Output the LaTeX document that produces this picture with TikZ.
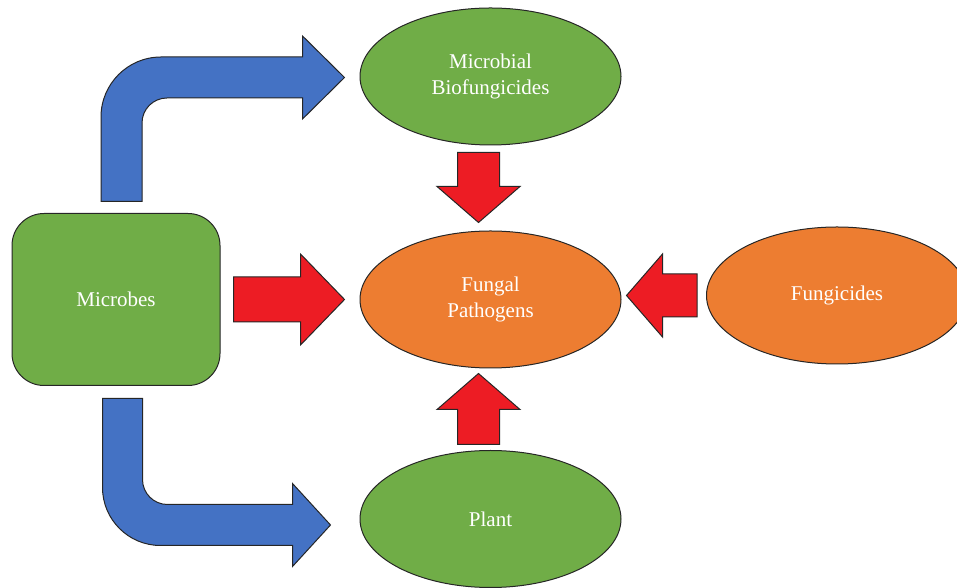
\documentclass[tikz,border=0pt]{standalone}
\usepackage{fontspec}
\setmainfont{Liberation Serif}
\usepackage{tikz}
\usepackage{xcolor}
\usetikzlibrary{calc,shapes.geometric}

\definecolor{leafgreen}{HTML}{70AD47}
\definecolor{pumpkin}{HTML}{ED7D31}
\definecolor{steelblue}{HTML}{4472C4}
\definecolor{signalred}{HTML}{ED1C24}

% straight block arrow: from, to, shaft half width, head half width, head length
\newcommand{\blockarrow}[5]{%
  \coordinate (hb) at ($(#2)!#5!(#1)$);
  \draw[redarrow] ($(#1)!#3!90:(#2)$) -- ($(hb)!#3!90:(#2)$) -- ($(hb)!#4!90:(#2)$)
    -- (#2) -- ($(hb)!#4!-90:(#2)$) -- ($(hb)!#3!-90:(#2)$) -- ($(#1)!#3!-90:(#2)$) -- cycle;
}

\begin{document}
\begin{tikzpicture}[x=1pt, y=1pt,
    label/.style={text=white, align=center, font=\fontsize{21}{25.5}\selectfont},
    greenbox/.style={label, draw=black!85, line width=1pt, fill=leafgreen, rounded corners=32pt,
                     minimum width=208pt, minimum height=172pt, inner sep=0pt},
    oval/.style={label, ellipse, draw=black!85, line width=1pt, minimum width=261pt,
                 minimum height=137pt, inner sep=0pt},
    redarrow/.style={draw=black!85, line width=1pt, fill=signalred},
    bluearrow/.style={draw=black!85, line width=1pt, fill=steelblue}
]
    \useasboundingbox (0,0) rectangle (957,588);

    \node[greenbox] (mic) at (116,288.5) {Microbes};
    \node[oval, fill=leafgreen] (bio) at (490.5,511.5) {Microbial\\Biofungicides};
    \node[oval, fill=pumpkin] (fun) at (490.5,288.5) {Fungal\\Pathogens};
    \node[oval, fill=pumpkin] (fgc) at (837,292.5) {Fungicides};
    \node[oval, fill=leafgreen] (pla) at (490.5,69) {Plant};

    % red arrows into the pathogens
    \coordinate (r1a) at ($(mic.east)+(13,0)$);
    \coordinate (r1b) at ($(fun.west)+(-15,0)$);
    \blockarrow{r1a}{r1b}{22.5pt}{45.5pt}{44pt}
    \coordinate (r2a) at ($(bio.south)+(-12,-7)$);
    \coordinate (r2b) at ($(fun.north)+(-12,8)$);
    \blockarrow{r2a}{r2b}{21pt}{41.5pt}{36pt}
    \coordinate (r3a) at ($(fgc.west)+(-9,0)$);
    \coordinate (r3b) at ($(fun.east)+(5,4)$);
    \blockarrow{r3a}{r3b}{21.5pt}{41.5pt}{36pt}
    \coordinate (r4a) at ($(pla.north)+(-12,5.5)$);
    \coordinate (r4b) at ($(fun.south)+(-12,-5)$);
    \blockarrow{r4a}{r4b}{21pt}{41.5pt}{36pt}

    % bent blue arrows out of the microbes
    \coordinate (b1a) at ($(mic.north)+(5.5,11.5)$);
    \coordinate (b1b) at ($(bio.west)+(-15,-1)$);
    \draw[bluearrow] let \p1=(b1a), \p2=(b1b) in
        (\x1-20.5pt,\y1) -- (\x1-20.5pt,\y2-39.5pt) arc[start angle=180, end angle=90, radius=60pt]
        -- (\x2-42pt,\y2+20.5pt) -- (\x2-42pt,\y2+41.5pt) -- (\p2) -- (\x2-42pt,\y2-41.5pt)
        -- (\x2-42pt,\y2-20.5pt) -- (\x1+45.5pt,\y2-20.5pt) arc[start angle=90, end angle=180, radius=25pt]
        -- (\x1+20.5pt,\y1) -- cycle;
    \coordinate (b2a) at ($(mic.south)+(6.5,-12.5)$);
    \coordinate (b2b) at ($(pla.west)+(-29,-6)$);
    \draw[bluearrow] let \p1=(b2a), \p2=(b2b) in
        (\x1-20pt,\y1) -- (\x1-20pt,\y2+37.5pt) arc[start angle=180, end angle=270, radius=58pt]
        -- (\x2-38pt,\y2-20.5pt) -- (\x2-38pt,\y2-41.5pt) -- (\p2) -- (\x2-38pt,\y2+41.5pt)
        -- (\x2-38pt,\y2+20.5pt) -- (\x1+45pt,\y2+20.5pt) arc[start angle=270, end angle=180, radius=25pt]
        -- (\x1+20pt,\y1) -- cycle;
\end{tikzpicture}
\end{document}
